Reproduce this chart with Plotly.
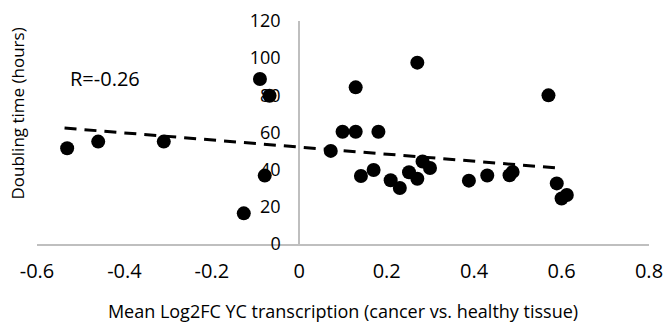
import plotly.graph_objects as go

# Mean Log2FC YC transcription (x) vs doubling time in hours (y)
x_vals = [-0.531, -0.460, -0.310, -0.090, -0.068, -0.079, -0.127,
          0.072, 0.099, 0.129, 0.181, 0.129, 0.270, 0.570,
          0.141, 0.170, 0.209, 0.230, 0.251, 0.270, 0.282, 0.299,
          0.388, 0.430, 0.481, 0.488, 0.589, 0.600, 0.612]
y_vals = [51.5, 55.1, 55.1, 88.8, 79.8, 36.8, 16.5,
          50.1, 60.4, 60.4, 60.4, 84.3, 97.6, 80.0,
          36.6, 39.8, 34.3, 30.1, 38.6, 35.1, 44.4, 40.9,
          34.1, 36.9, 37.0, 38.8, 32.6, 24.5, 26.4]

# Linear trend line (as drawn in the chart)
trend_x = [-0.537, 0.601]
trend_y = [62.4, 40.7]

x_ticks = [-0.6, -0.4, -0.2, 0, 0.2, 0.4, 0.6, 0.8]
x_tick_text = ["-0.6", "-0.4", "-0.2", "0", "0.2", "0.4", "0.6", "0.8"]
y_ticks = [0, 20, 40, 60, 80, 100, 120]

font_family = "'Open Sans', Lato, sans-serif"

fig = go.Figure()
fig.add_trace(go.Scatter(
    x=trend_x, y=trend_y, mode="lines",
    line=dict(color="black", width=3, dash="12px,8px"),
    showlegend=False, hoverinfo="skip"))
fig.add_trace(go.Scatter(
    x=x_vals, y=y_vals, mode="markers",
    marker=dict(color="black", size=14, line=dict(width=0)),
    showlegend=False))

fig.add_annotation(x=-0.528, y=88.8, xref="x", yref="y", text="R=-0.26",
                   showarrow=False, xanchor="left", yanchor="middle",
                   font=dict(size=20, color="black", family=font_family))
fig.add_annotation(x=-0.031, y=0.585, xref="paper", yref="paper",
                   text="Doubling time (hours)", textangle=-90,
                   showarrow=False, xanchor="center", yanchor="middle",
                   font=dict(size=17, color="black", family=font_family))

fig.update_layout(
    width=664, height=325,
    margin=dict(l=37, r=15, t=21, b=81, autoexpand=False),
    plot_bgcolor="white", paper_bgcolor="white",
    font=dict(family=font_family, color="black"),
    xaxis=dict(
        range=[-0.6, 0.8], tickvals=x_ticks, ticktext=x_tick_text,
        showgrid=False, zeroline=False, automargin=False,
        showline=True, linecolor="#bfbfbf", linewidth=2,
        ticks="", tickfont=dict(size=20, color="black"),
        ticklabelstandoff=8, layer="below traces",
        title=dict(text="Mean Log2FC YC transcription (cancer vs. healthy tissue)",
                   font=dict(size=18, color="black"), standoff=22),
    ),
    yaxis=dict(
        range=[0, 120], tickvals=y_ticks, automargin=False,
        showgrid=False, zeroline=False,
        showline=True, linecolor="#bfbfbf", linewidth=2,
        anchor="free", position=0.6 / 1.4,
        ticks="", tickfont=dict(size=18, color="black"),
        ticklabelstandoff=14, layer="below traces",
    ),
)

fig.write_html("out.html")
